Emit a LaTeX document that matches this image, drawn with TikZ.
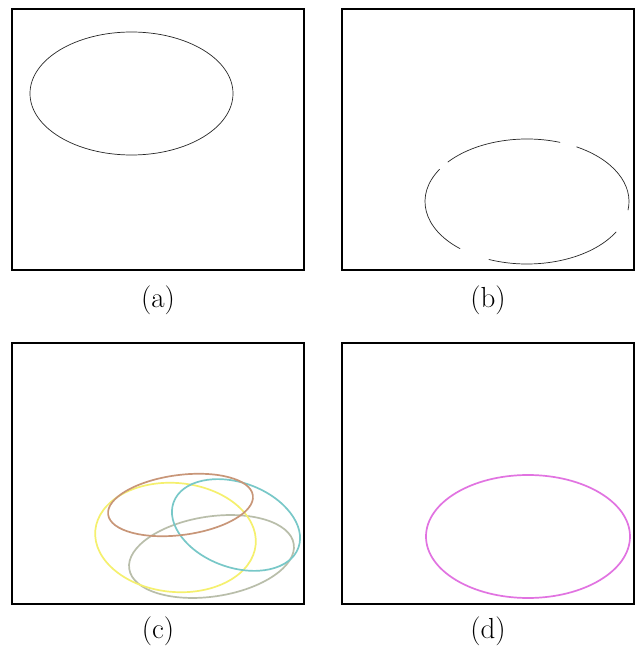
\documentclass[tikz,border=0pt]{standalone}
\begin{document}
\begin{tikzpicture}[x=1pt,y=1pt,
  panel/.style={draw=black,line width=1.3pt},
  edgeline/.style={draw=black!85,line width=0.7pt},
  softline/.style={line width=1.7pt},
  caption/.style={anchor=base,inner sep=0pt,font=\fontsize{29}{34}\selectfont}]
\definecolor{cbrown}{RGB}{200,150,120}
\definecolor{cyellow}{RGB}{245,240,110}
\definecolor{ccyan}{RGB}{120,200,200}
\definecolor{cgray}{RGB}{185,190,170}
\definecolor{cpink}{RGB}{225,115,225}
\useasboundingbox (0,0) rectangle (637,649);
\fill[white] (0,0) rectangle (637,649);
% panels
\draw[panel] (12,379) rectangle (304,640);
\draw[panel] (342,379) rectangle (634,640);
\draw[panel] (12,45) rectangle (304,306);
\draw[panel] (342,45) rectangle (634,306);
% (a)
\draw[edgeline] (131.5,555.5) ellipse [x radius=101.5pt, y radius=61.5pt];
% (b) broken ellipse
\foreach \s/\e in {-8/61, 71/141, 149/229, 248/331}{
  \draw[edgeline] ([shift={(\s:102pt and 62.5pt)}]527,447.5)
    arc[start angle=\s, end angle=\e, x radius=102pt, y radius=62.5pt];
}
% (c)
\draw[softline,cgray,rotate around={8.6:(211.5,92.5)}] (211.5,92.5) ellipse [x radius=83.2pt, y radius=40pt];
\draw[softline,cyellow,rotate around={-5:(175.5,111.5)}] (175.5,111.5) ellipse [x radius=80.5pt, y radius=54.5pt];
\draw[softline,ccyan,rotate around={-20:(236,124)}] (236,124) ellipse [x radius=66.4pt, y radius=42.4pt];
\draw[softline,cbrown,rotate around={7.5:(180.5,144)}] (180.5,144) ellipse [x radius=73pt, y radius=30pt];
% (d)
\draw[softline,cpink] (528,112.5) ellipse [x radius=102pt, y radius=61.5pt];
% captions
\node[caption] (la) at (158,341) {(a)};
\node[caption] (lb) at (488,341) {(b)};
\node[caption] (lc) at (158,10) {(c)};
\node[caption] (ld) at (488,10) {(d)};
\end{tikzpicture}
\end{document}
